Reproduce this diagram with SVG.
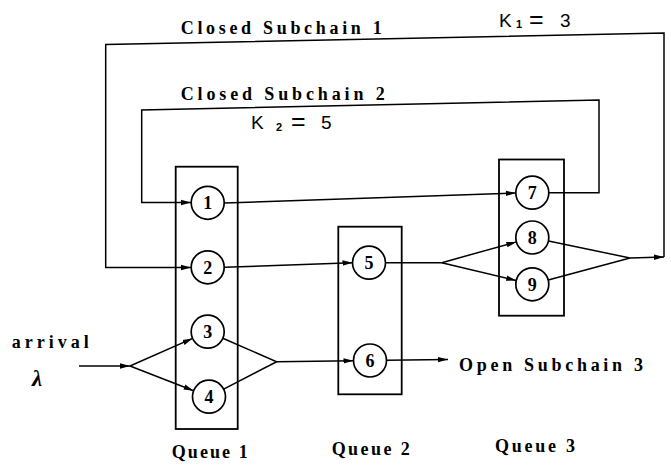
<svg xmlns="http://www.w3.org/2000/svg" width="671" height="467" viewBox="0 0 671 467">
<style>
.bg{fill:#ffffff}
.box{fill:none;stroke:#000;stroke-width:1.8}
.node circle{fill:#fff;stroke:#000;stroke-width:1.7}
.num{font-family:"Liberation Serif",serif;font-weight:bold;font-size:18px;text-anchor:middle;fill:#000}
.con{fill:none;stroke:#000;stroke-width:1.5;stroke-linejoin:miter}
.lbl{font-family:"Liberation Serif",serif;font-weight:bold;font-size:18px;fill:#000}
.lam{font-family:"Liberation Serif",serif;font-weight:bold;font-style:italic;font-size:23px;fill:#000}
.k{font-family:"Liberation Sans",sans-serif;font-size:19px;fill:#000}
.sub{font-size:11px;font-weight:bold}
.eq{font-size:25px}
</style>
<defs>
<marker id="arr" markerUnits="userSpaceOnUse" markerWidth="11" markerHeight="7" refX="10" refY="3.5" orient="auto">
<path d="M0,0.8 L10,3.5 L0,6.2 z" fill="#000"/>
</marker>
</defs>
<rect class="bg" x="0" y="0" width="671" height="467"/>

<g id="queue1">
<rect class="box" x="175.7" y="166.7" width="62" height="262.3"/>
<text class="lbl" x="171.7" y="458" textLength="76" lengthAdjust="spacing">Queue 1</text>
</g>
<g id="queue2">
<rect class="box" x="338.3" y="226.7" width="63.4" height="167.6"/>
<text class="lbl" x="331.7" y="455" textLength="78" lengthAdjust="spacing">Queue 2</text>
</g>
<g id="queue3">
<rect class="box" x="499" y="159.5" width="65" height="156.2"/>
<text class="lbl" x="495" y="452" textLength="80" lengthAdjust="spacing">Queue 3</text>
</g>

<g id="connectors">
<path class="con" d="M548.8,192.7 L599,192.7 L599,100 L141.7,110 L141.7,202.5 L191,202.5" marker-end="url(#arr)"/>
<path class="con" d="M224.2,203 L515.8,193" marker-end="url(#arr)"/>
<path class="con" d="M630,258 L664,257" marker-end="url(#arr)"/>
<path class="con" d="M664,257 L664,33 L105.7,44.5 L105.7,267.5 L191,267.5" marker-end="url(#arr)"/>
<path class="con" d="M224.2,267.3 L352.5,262.7" marker-end="url(#arr)"/>
<path class="con" d="M385.5,262.7 L441.7,262.7"/>
<path class="con" d="M441.7,262.7 L516.4,241.9" marker-end="url(#arr)"/>
<path class="con" d="M441.7,262.7 L516.2,280.5" marker-end="url(#arr)"/>
<path class="con" d="M548.5,240.9 L630,258 L548.2,280"/>
<path class="con" d="M79,366 L130,366" marker-end="url(#arr)"/>
<path class="con" d="M130,366 L192.6,338.4" marker-end="url(#arr)"/>
<path class="con" d="M130,366 L193.6,390.7" marker-end="url(#arr)"/>
<path class="con" d="M222.8,338.3 L276.7,361.7 L223.7,389.1"/>
<path class="con" d="M276.7,361.7 L353.5,360.7" marker-end="url(#arr)"/>
<path class="con" d="M386.5,360.3 L448,359.5" marker-end="url(#arr)"/>
</g>

<g id="n1" class="node"><circle cx="207.7" cy="202.8" r="16.5"/><text class="num" x="207.7" y="209">1</text></g>
<g id="n2" class="node"><circle cx="207.7" cy="267.3" r="16.5"/><text class="num" x="207.7" y="273.5">2</text></g>
<g id="n3" class="node"><circle cx="207.7" cy="331.7" r="16.5"/><text class="num" x="207.7" y="337.9">3</text></g>
<g id="n4" class="node"><circle cx="209" cy="396.7" r="16.5"/><text class="num" x="209" y="402.9">4</text></g>
<g id="n5" class="node"><circle cx="369" cy="262.7" r="16.5"/><text class="num" x="369" y="268.9">5</text></g>
<g id="n6" class="node"><circle cx="370" cy="360.5" r="16.5"/><text class="num" x="370" y="366.7">6</text></g>
<g id="n7" class="node"><circle cx="532.3" cy="192.7" r="16.5"/><text class="num" x="532.3" y="198.9">7</text></g>
<g id="n8" class="node"><circle cx="532.3" cy="237.5" r="16.5"/><text class="num" x="532.3" y="243.7">8</text></g>
<g id="n9" class="node"><circle cx="532.3" cy="284.3" r="16.5"/><text class="num" x="532.3" y="290.5">9</text></g>

<g id="labels">
<text class="lbl" x="180.7" y="33.5" textLength="201" lengthAdjust="spacing">Closed Subchain 1</text>
<text class="lbl" x="180.7" y="100" textLength="204" lengthAdjust="spacing">Closed Subchain 2</text>
<text class="k" y="26.5"><tspan x="499">K</tspan><tspan class="sub" x="516" y="28">1</tspan><tspan class="eq" x="529" y="28">=</tspan><tspan x="560" y="26.5">3</tspan></text>
<text class="k" y="128.5"><tspan x="251">K</tspan><tspan class="sub" x="276" y="131">2</tspan><tspan class="eq" x="291" y="130">=</tspan><tspan x="321" y="128.5">5</tspan></text>
<text class="lbl" x="11.7" y="348.3" textLength="77" lengthAdjust="spacing">arrival</text>
<text class="lam" x="32" y="385.5">λ</text>
<text class="lbl" x="459" y="371" textLength="184" lengthAdjust="spacing">Open Subchain 3</text>
</g>
</svg>
